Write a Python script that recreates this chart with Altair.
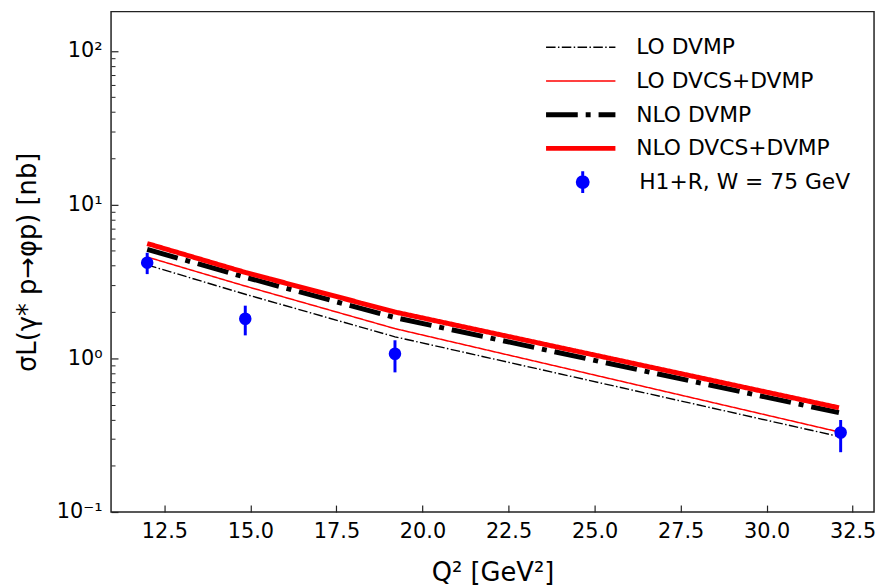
import altair as alt
import pandas as pd

# ---------------- data ----------------
Q2 = [12.0, 14.85, 19.2, 32.1]
LO_DVMP = [4.05, 2.61, 1.38, 0.31]
LO_DVCS_DVMP = [4.56, 2.95, 1.56, 0.332]
NLO_DVMP = [5.11, 3.37, 1.84, 0.443]
NLO_DVCS_DVMP = [5.58, 3.62, 2.00, 0.477]
SERIES = ["LO DVMP", "LO DVCS+DVMP", "NLO DVMP", "NLO DVCS+DVMP"]

DATA_Q2 = [12.0, 14.85, 19.2, 32.15]
DATA_SIGMA = [4.19, 1.81, 1.07, 0.329]
DATA_LO = [3.53, 1.41, 0.81, 0.245]
DATA_HI = [4.86, 2.20, 1.31, 0.397]
DATA_LABEL = "H1+R, W = 75 GeV"

X_TICKS = [12.5, 15.0, 17.5, 20.0, 22.5, 25.0, 27.5, 30.0, 32.5]
Y_MAJOR = [0.1, 1, 10, 100]
Y_MINOR = [0.2, 0.3, 0.4, 0.5, 0.6, 0.7, 0.8, 0.9,
           2, 3, 4, 5, 6, 7, 8, 9,
           20, 30, 40, 50, 60, 70, 80, 90]

FONT = "DejaVu Sans"

rows = []
for name, vals in zip(SERIES, [LO_DVMP, LO_DVCS_DVMP, NLO_DVMP, NLO_DVCS_DVMP]):
    for q, v in zip(Q2, vals):
        rows.append({"Q2": q, "sigma": v, "series": name})
df_lines = pd.DataFrame(rows)
df_pts = pd.DataFrame({"Q2": DATA_Q2, "sigma": DATA_SIGMA, "lo": DATA_LO,
                       "hi": DATA_HI, "label": [DATA_LABEL] * len(DATA_Q2)})

xscale = alt.Scale(domain=[10.95, 33.12], nice=False, zero=False)
yscale = alt.Scale(type="log", domain=[0.1, 180], nice=False)

xaxis = alt.Axis(values=X_TICKS, format=".1f", grid=False, domain=False,
                 tickSize=alt.ExprRef("-7"), tickWidth=1.2, tickColor="#222",
                 labelPadding=alt.ExprRef("16"), labelFontSize=21, labelFont=FONT,
                 labelColor="black", titleFontSize=26, titleFont=FONT,
                 titleFontWeight="normal", titleColor="black", titlePadding=18,
                 labelFlush=False)
yaxis = alt.Axis(values=Y_MAJOR, grid=False, domain=False,
                 labelExpr="datum.value < 0.5 ? '10⁻¹' : datum.value < 5 ? '10⁰' : datum.value < 50 ? '10¹' : '10²'",
                 tickSize=alt.ExprRef("-7"), tickWidth=1.2, tickColor="#222",
                 labelPadding=alt.ExprRef("16"), labelFontSize=21, labelFont=FONT,
                 labelColor="black", titleFontSize=26, titleFont=FONT,
                 titleFontWeight="normal", titleColor="black", titlePadding=16,
                 labelFlush=False)
yaxis_minor = alt.Axis(values=Y_MINOR, grid=False, domain=False, labels=False,
                       orient="left", tickSize=alt.ExprRef("-4"), tickWidth=1.0,
                       tickColor="#222", title=None)

line_legend = alt.Legend(title=None, orient="none", legendX=463, legendY=25,
                         symbolType="M-7,0L7,0", symbolSize=100,
                         labelFontSize=22, labelFont=FONT, labelColor="black",
                         labelOffset=45, rowPadding=12, padding=0, labelLimit=400)
pt_legend = alt.Legend(title=None, orient="none", legendX=465, legendY=161,
                       symbolType="M0,-2.2L0,2.2M1.1,0A1.1,1.1,0,1,1,-1.1,0A1.1,1.1,0,1,1,1.1,0Z",
                       symbolSize=100, symbolFillColor="blue", symbolStrokeColor="blue",
                       symbolStrokeWidth=3, symbolOpacity=1,
                       labelFontSize=22, labelFont=FONT, labelColor="black",
                       labelOffset=46, padding=0, labelLimit=400)

lines = alt.Chart(df_lines).mark_line(strokeCap="butt", clip=True).encode(
    x=alt.X("Q2:Q", scale=xscale, axis=xaxis, title="Q² [GeV²]"),
    y=alt.Y("sigma:Q", scale=yscale, axis=yaxis, title="σL(γ* p→φp) [nb]"),
    color=alt.Color("series:N", sort=SERIES,
                    scale=alt.Scale(domain=SERIES, range=["black", "red", "black", "red"]),
                    legend=line_legend),
    strokeDash=alt.StrokeDash("series:N", sort=SERIES,
                              scale=alt.Scale(domain=SERIES,
                                              range=[[9.6, 2.4, 1.5, 2.4], [1, 0],
                                                     [32, 8, 5, 8], [1, 0]]),
                              legend=line_legend),
    strokeWidth=alt.StrokeWidth("series:N", sort=SERIES,
                                scale=alt.Scale(type="ordinal", domain=SERIES,
                                                range=[1.4, 1.5, 5, 5]),
                                legend=line_legend),
)

errbars = alt.Chart(df_pts).mark_rule(color="blue", strokeWidth=3).encode(
    x=alt.X("Q2:Q", scale=xscale),
    y=alt.Y("lo:Q", scale=yscale, axis=None),
    y2="hi:Q",
    opacity=alt.Opacity("label:N",
                        scale=alt.Scale(type="ordinal", domain=[DATA_LABEL], range=[1]),
                        legend=pt_legend),
)

points = alt.Chart(df_pts).mark_circle(color="blue", size=160, opacity=1).encode(
    x=alt.X("Q2:Q", scale=xscale),
    y=alt.Y("sigma:Q", scale=yscale, axis=yaxis_minor),
)

chart = alt.layer(lines, errbars, points).resolve_scale(
    y="shared"
).resolve_axis(
    y="independent"
).properties(
    width=770, height=505,
    padding={"left": 104, "top": 1, "right": 4, "bottom": 73},
    autosize=alt.AutoSizeParams(type="none"),
    background="white",
).configure_view(
    stroke="#222", strokeWidth=1.5
)

chart.save("out.html", embed_options={"renderer": "svg", "actions": False})
